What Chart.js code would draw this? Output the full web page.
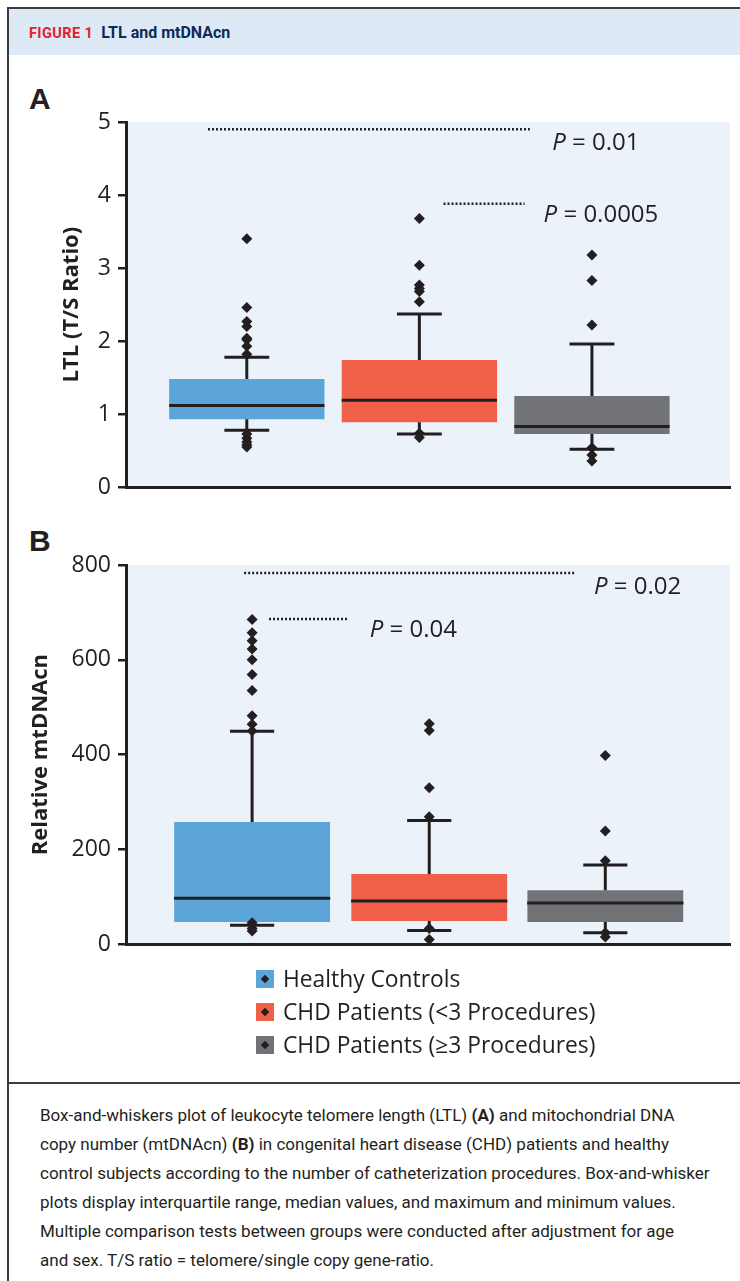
<!DOCTYPE html>
<html>
<head>
<meta charset="utf-8">
<script src="https://cdn.jsdelivr.net/npm/chart.js@4.4.0/dist/chart.umd.min.js"></script>
<style>
  body { margin: 0; width: 740px; height: 1281px; position: relative; overflow: hidden; background: #fff; color: #231f20; font-family: 'Open Sans', sans-serif; }
  .frame { position: absolute; left: 7px; top: 7px; width: 740px; height: 1290px; border-left: 2px solid #3c3c3c; border-top: 2px solid #3c3c3c; }
  .header { position: absolute; left: 9px; top: 9px; width: 731px; height: 46px; background: #dde9f5; }
  .header .line { position: absolute; left: 20px; top: 15px; font-family: 'Roboto', sans-serif; font-weight: bold; line-height: 18px; white-space: nowrap; }
  .fig { color: #e3202e; font-size: 14.5px; letter-spacing: 0.4px; }
  .ttl { color: #0f2b57; font-size: 16px; margin-left: 8px; }
  .panel-label { position: absolute; left: 29px; font-family: 'Liberation Sans', Arial, sans-serif; font-weight: bold; font-size: 30px; line-height: 30px; }
  .chart-box { position: absolute; left: 0; width: 740px; }
  .legend { position: absolute; left: 256px; top: 962px; }
  .legend div { height: 33px; display: flex; align-items: center; font-size: 22.8px; white-space: nowrap; }
  .legend .sq { width: 18px; height: 18px; margin-right: 9px; position: relative; }
  .legend .sq::after { content: ''; position: absolute; left: 6px; top: 6px; width: 6px; height: 6px; background: #231f20; transform: rotate(45deg); }
  .sep { position: absolute; left: 9px; top: 1082px; width: 731px; height: 0; border-top: 2px solid #3c3c3c; }
  .caption { position: absolute; left: 40px; top: 1101px; font-family: 'Roboto', sans-serif; font-size: 17px; line-height: 29px; white-space: nowrap; }
</style>
</head>
<body>
<div class="frame"></div>
<div class="header"><div class="line"><span class="fig">FIGURE 1</span><span class="ttl">LTL and mtDNAcn</span></div></div>

<div class="panel-label" style="top:84px">A</div>
<div class="chart-box" style="top:100px;height:408px"><canvas id="ltlChart"></canvas></div>

<div class="panel-label" style="top:526px">B</div>
<div class="chart-box" style="top:540px;height:425px"><canvas id="mtdnaChart"></canvas></div>

<div class="legend" id="legend"></div>

<div class="sep"></div>
<div class="caption">
Box-and-whiskers plot of leukocyte telomere length (LTL) <b>(A)</b> and mitochondrial DNA<br>
copy number (mtDNAcn) <b>(B)</b> in congenital heart disease (CHD) patients and healthy<br>
control subjects according to the number of catheterization procedures. Box-and-whisker<br>
plots display interquartile range, median values, and maximum and minimum values.<br>
Multiple comparison tests between groups were conducted after adjustment for age<br>
and sex. T/S ratio = telomere/single copy gene-ratio.
</div>

<script>
// Groups
const groups = ['Healthy Controls', 'CHD Patients (<3 Procedures)', 'CHD Patients (\u22653 Procedures)'];
const groupColors = ['#5ba5d9', '#f05f48', '#727376'];

// Panel A: LTL (T/S ratio)
const ltlTicks = [0, 1, 2, 3, 4, 5];
const ltlQ1 = [0.93, 0.89, 0.73];
const ltlMedian = [1.12, 1.19, 0.83];
const ltlQ3 = [1.48, 1.74, 1.25];
const ltlWhiskerLow = [0.78, 0.73, 0.52];
const ltlWhiskerHigh = [1.78, 2.37, 1.96];
const ltlOutliers = [
    [3.40, 2.46, 2.27, 2.20, 2.04, 2.02, 1.93, 1.82, 0.73, 0.67, 0.62, 0.58, 0.55],
    [3.68, 3.04, 2.77, 2.72, 2.68, 2.54, 0.74, 0.68],
    [3.18, 2.83, 2.22, 0.54, 0.44, 0.36]
];
const ltlPValues = ['0.01', '0.0005'];

// Panel B: relative mtDNAcn
const mtTicks = [0, 200, 400, 600, 800];
const mtQ1 = [47, 49, 47];
const mtMedian = [97, 91, 87];
const mtQ3 = [258, 148, 114];
const mtWhiskerLow = [40, 29, 24];
const mtWhiskerHigh = [449, 261, 167];
const mtOutliers = [
    [685, 657, 640, 623, 600, 569, 535, 482, 464, 450, 45, 33, 28],
    [465, 451, 330, 269, 33, 10],
    [398, 239, 176, 24, 15]
];
const mtPValues = ['0.02', '0.04'];

// Layout of each panel (x axis runs in "slot" units)
const layoutA = {
    xMax: 3.5, positions: [0.7, 1.7, 2.7], boxWidth: 0.9, capWidth: 0.26,
    brackets: [{ from: 0.475, to: 2.34, y: 4.9 }, { from: 1.84, to: 2.31, y: 3.88 }],
    pLabels: [{ x: 2.47, y: 4.71 }, { x: 2.42, y: 3.73 }],
    padding: { top: 22, right: 10, bottom: 5, left: 0 },
    titlePad: 59
};
const layoutB = {
    xMax: 3.42, positions: [0.714, 1.717, 2.714], boxWidth: 0.885, capWidth: 0.25,
    brackets: [{ from: 0.669, to: 2.544, y: 783 }, { from: 0.81, to: 1.258, y: 686 }],
    pLabels: [{ x: 2.65, y: 753 }, { x: 1.38, y: 662 }],
    padding: { top: 25, right: 10, bottom: 5, left: 0 },
    titlePad: 28
};

const ink = '#231f20';

// Plot background + P value labels
const panelDecor = {
    id: 'panelDecor',
    beforeDraw(chart) {
        const { ctx, chartArea: a } = chart;
        ctx.save();
        ctx.fillStyle = '#ebf2fa';
        ctx.fillRect(a.left, a.top, a.right - a.left, a.bottom - a.top);
        ctx.restore();
    },
    afterDraw(chart, args, opts) {
        const { ctx, scales } = chart;
        ctx.save();
        ctx.fillStyle = ink;
        ctx.textBaseline = 'middle';
        opts.labels.forEach((pos, i) => {
            const px = scales.x.getPixelForValue(pos.x);
            const py = scales.y.getPixelForValue(pos.y);
            ctx.font = 'italic 24px "Open Sans"';
            ctx.fillText('P', px, py);
            const w = ctx.measureText('P').width;
            ctx.font = '24px "Open Sans"';
            ctx.fillText(' = ' + opts.values[i], px + w, py);
        });
        ctx.restore();
    }
};

function buildBoxChart(canvasId, stats, layout, yTicks, yTitle) {
    const pos = layout.positions;
    const hw = layout.boxWidth / 2;
    const cw = layout.capWidth / 2;

    const medians = [];
    const whiskers = [];
    pos.forEach((x, i) => {
        medians.push({ x: x - hw, y: stats.median[i] }, { x: x + hw, y: stats.median[i] }, { x: x, y: null });
        whiskers.push(
            { x: x, y: stats.q3[i] }, { x: x, y: stats.high[i] }, { x: x, y: null },
            { x: x - cw, y: stats.high[i] }, { x: x + cw, y: stats.high[i] }, { x: x, y: null },
            { x: x, y: stats.q1[i] }, { x: x, y: stats.low[i] }, { x: x, y: null },
            { x: x - cw, y: stats.low[i] }, { x: x + cw, y: stats.low[i] }, { x: x, y: null }
        );
    });
    const outliers = [];
    stats.outliers.forEach((list, i) => list.forEach(v => outliers.push({ x: pos[i], y: v })));
    const brackets = [];
    layout.brackets.forEach(b => brackets.push({ x: b.from, y: b.y }, { x: b.to, y: b.y }, { x: b.to, y: null }));

    const lineStyle = { type: 'line', borderColor: ink, pointRadius: 0, fill: false, spanGaps: false, tension: 0 };

    return new Chart(document.getElementById(canvasId), {
        type: 'bar',
        data: {
            datasets: [
                {
                    type: 'bar',
                    data: pos.map((x, i) => ({ x: x, y: [stats.q1[i], stats.q3[i]] })),
                    backgroundColor: groupColors,
                    borderWidth: 0,
                    barPercentage: layout.boxWidth,
                    categoryPercentage: 1,
                    order: 5
                },
                Object.assign({ data: whiskers, borderWidth: 3, order: 4 }, lineStyle),
                Object.assign({ data: medians, borderWidth: 3, order: 3 }, lineStyle),
                {
                    type: 'scatter',
                    data: outliers,
                    pointStyle: 'rectRot',
                    pointRadius: 5.5,
                    backgroundColor: ink,
                    borderWidth: 0,
                    order: 2
                },
                Object.assign({ data: brackets, borderWidth: 2.5, borderDash: [2, 2], order: 1 }, lineStyle)
            ]
        },
        options: {
            responsive: true,
            maintainAspectRatio: false,
            animation: false,
            layout: { padding: layout.padding },
            scales: {
                x: {
                    type: 'linear',
                    offset: false,
                    min: 0,
                    max: layout.xMax,
                    grid: { display: false, drawTicks: false, offset: false },
                    ticks: { display: false },
                    border: { display: true, color: ink, width: 3 },
                    afterBuildTicks: scale => { scale.ticks = pos.map(v => ({ value: v })); }
                },
                y: {
                    min: yTicks[0],
                    max: yTicks[yTicks.length - 1],
                    afterBuildTicks: scale => { scale.ticks = yTicks.map(v => ({ value: v })); },
                    afterFit: scale => { scale.width = 126; },
                    ticks: { color: ink, padding: 7, font: { family: 'Open Sans', size: 23 } },
                    grid: { drawOnChartArea: false, drawTicks: true, tickLength: 8, color: ink, lineWidth: 2.5 },
                    border: { display: true, color: ink, width: 3 },
                    title: {
                        display: true,
                        text: yTitle,
                        color: ink,
                        font: { family: 'Open Sans', size: 22, weight: 'bold' },
                        padding: { top: layout.titlePad, bottom: 0 }
                    }
                }
            },
            plugins: {
                legend: { display: false },
                tooltip: { enabled: false },
                panelDecor: { labels: layout.pLabels, values: stats.pValues }
            }
        },
        plugins: [panelDecor]
    });
}

buildBoxChart('ltlChart', {
    q1: ltlQ1, median: ltlMedian, q3: ltlQ3, low: ltlWhiskerLow, high: ltlWhiskerHigh,
    outliers: ltlOutliers, pValues: ltlPValues
}, layoutA, ltlTicks, 'LTL (T/S Ratio)');

buildBoxChart('mtdnaChart', {
    q1: mtQ1, median: mtMedian, q3: mtQ3, low: mtWhiskerLow, high: mtWhiskerHigh,
    outliers: mtOutliers, pValues: mtPValues
}, layoutB, mtTicks, 'Relative mtDNAcn');

// Shared legend
const legendEl = document.getElementById('legend');
groups.forEach((name, i) => {
    const row = document.createElement('div');
    const sq = document.createElement('span');
    sq.className = 'sq';
    sq.style.background = groupColors[i];
    row.appendChild(sq);
    row.appendChild(document.createTextNode(name));
    legendEl.appendChild(row);
});
</script>
</body>
</html>
